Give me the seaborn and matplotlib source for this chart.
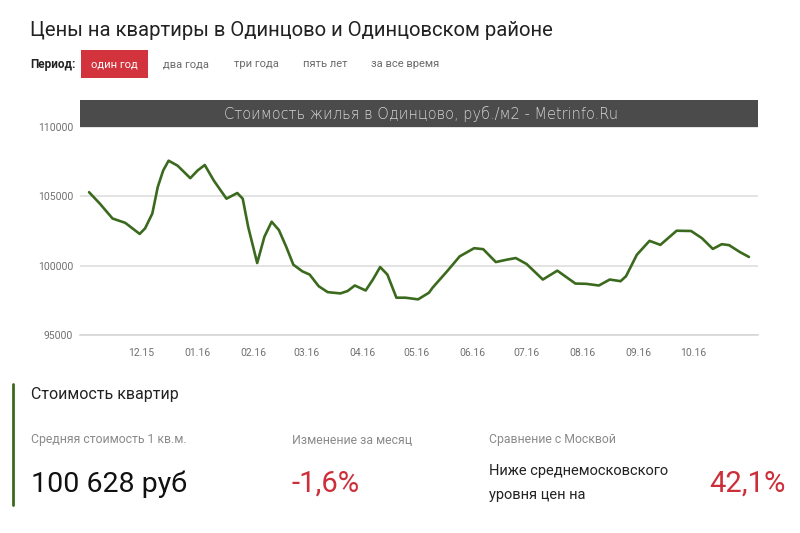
import matplotlib
matplotlib.use("Agg")
import matplotlib.pyplot as plt
import matplotlib.dates as mdates
from matplotlib.patches import Rectangle
import pandas as pd
import seaborn as sns

dates = ["2015-11-02", "2015-11-08", "2015-11-15", "2015-11-22", "2015-11-26", "2015-11-30",
         "2015-12-03", "2015-12-07", "2015-12-10", "2015-12-13", "2015-12-16", "2015-12-21",
         "2015-12-28", "2016-01-01", "2016-01-05", "2016-01-10", "2016-01-17", "2016-01-23",
         "2016-01-26", "2016-01-29", "2016-02-03", "2016-02-07", "2016-02-11", "2016-02-15",
         "2016-02-19", "2016-02-23", "2016-02-28", "2016-03-03", "2016-03-08", "2016-03-13",
         "2016-03-20", "2016-03-24", "2016-03-28", "2016-04-03", "2016-04-07", "2016-04-11",
         "2016-04-15", "2016-04-20", "2016-04-25", "2016-05-02", "2016-05-08", "2016-05-10",
         "2016-05-18", "2016-05-25", "2016-06-02", "2016-06-07", "2016-06-14", "2016-06-20",
         "2016-06-25", "2016-07-01", "2016-07-10", "2016-07-18", "2016-07-28", "2016-08-03",
         "2016-08-10", "2016-08-16", "2016-08-22", "2016-08-25", "2016-08-31", "2016-09-07",
         "2016-09-13", "2016-09-22", "2016-09-30", "2016-10-06", "2016-10-12", "2016-10-17",
         "2016-10-21", "2016-10-27", "2016-11-01"]
prices = [105300, 104470, 103400, 103090, 102690, 102290,
          102690, 103760, 105670, 106860, 107570, 107210,
          106310, 106860, 107260, 106140, 104830, 105240,
          104830, 102810, 100190, 102090, 103170, 102570,
          101380, 100070, 99590, 99360, 98520, 98090,
          98000, 98170, 98570, 98210, 99000, 99900,
          99360, 97690, 97690, 97570, 98050, 98410,
          99590, 100670, 101260, 101190, 100260, 100430,
          100550, 100120, 99000, 99640, 98710, 98690,
          98570, 99000, 98880, 99240, 100790, 101790,
          101500, 102520, 102500, 101980, 101210, 101550,
          101480, 100980, 100628]
y_ticks = [95000, 100000, 105000, 110000]
x_tick_dates = ["2015-12-01", "2016-01-01", "2016-02-01", "2016-03-01", "2016-04-01", "2016-05-01",
                "2016-06-01", "2016-07-01", "2016-08-01", "2016-09-01", "2016-10-01"]

title = "Цены на квартиры в Одинцово и Одинцовском районе"
chart_title = "Стоимость жилья в Одинцово, руб./м2 - Metrinfo.Ru"
period_label = "Период:"
periods = ["один год", "два года", "три года", "пять лет", "за все время"]

df = pd.DataFrame({"date": pd.to_datetime(dates), "price": prices})

sns.set_style("white")
plt.rcParams["font.family"] = ["Roboto", "DejaVu Sans"]

W, H = 800, 533
fig = plt.figure(figsize=(8, 5.33), dpi=100)

def fx(x):
    return x / W

def fy(y):
    return 1 - y / H

ax = fig.add_axes([fx(80), fy(335), fx(758) - fx(80), fy(127) - fy(335)])
sns.lineplot(data=df, x="date", y="price", ax=ax, color="#3b6a1e", linewidth=1.9)

ax.set_ylim(95000, 110000)
ax.set_xlim(pd.Timestamp("2015-10-28"), pd.Timestamp("2016-11-06"))
ax.set_yticks(y_ticks)
ax.set_yticklabels([str(v) for v in y_ticks])
ax.set_xticks(pd.to_datetime(x_tick_dates))
ax.xaxis.set_major_formatter(mdates.DateFormatter("%m.%y"))
ax.grid(axis="y", color="#dedede", linewidth=1.2)
ax.grid(axis="x", visible=False)
for s in ["top", "right", "left"]:
    ax.spines[s].set_visible(False)
ax.spines["bottom"].set_color("#d6d6d6")
ax.spines["bottom"].set_linewidth(1.2)
ax.tick_params(axis="y", length=0, pad=5, labelsize=7.5, labelcolor="#707070")
ax.tick_params(axis="x", length=6, width=1, color="#d6d6d6", pad=3, labelsize=7.5, labelcolor="#707070")
ax.set_xlabel("")
ax.set_ylabel("")

# chart header bar
fig.patches.append(Rectangle((fx(80), fy(127)), fx(758) - fx(80), fy(100) - fy(127),
                             transform=fig.transFigure, facecolor="#4b4b4b", edgecolor="none", zorder=5))
fig.text(fx(421), fy(114), chart_title, color="#d4d4d4", fontsize=10.5, ha="center", va="center",
         zorder=6, family=["DejaVu Sans"], fontweight="light")

# page title
fig.text(fx(30), fy(30), title, fontsize=14.6, color="#222222", ha="left", va="center")

# period selector
fig.text(fx(30), fy(64), period_label, fontsize=8.5, color="#222222", fontweight="bold", ha="left", va="center")
fig.patches.append(Rectangle((fx(81), fy(78)), fx(148) - fx(81), fy(50) - fy(78),
                             transform=fig.transFigure, facecolor="#d2333c", edgecolor="none"))
period_x = [114.5, 186, 256, 325, 405]
for i, (p, px) in enumerate(zip(periods, period_x)):
    fig.text(fx(px), fy(64), p, fontsize=8, color="white" if i == 0 else "#6a6a6a", ha="center", va="center")

# summary block
fig.add_artist(plt.Line2D([fx(12.5), fx(12.5)], [fy(384), fy(505)], transform=fig.transFigure,
                          color="#3b6a1e", linewidth=2))
fig.text(fx(31), fy(395), "Стоимость квартир", fontsize=11.5, color="#222222", ha="left", va="center")
fig.text(fx(31), fy(440), "Средняя стоимость 1 кв.м.", fontsize=8.8, color="#8a8a8a", ha="left", va="center")
fig.text(fx(292), fy(440), "Изменение за месяц", fontsize=8.8, color="#8a8a8a", ha="left", va="center")
fig.text(fx(489), fy(440), "Сравнение с Москвой", fontsize=8.8, color="#8a8a8a", ha="left", va="center")
fig.text(fx(31), fy(484), "100 628 руб", fontsize=20.5, color="#111111", ha="left", va="center")
fig.text(fx(292), fy(484), "-1,6%", fontsize=21, color="#cc2f3a", ha="left", va="center")
fig.text(fx(489), fy(471), "Ниже среднемосковского", fontsize=10.5, color="#222222", ha="left", va="center")
fig.text(fx(489), fy(495), "уровня цен на", fontsize=10.5, color="#222222", ha="left", va="center")
fig.text(fx(786), fy(484), "42,1%", fontsize=21, color="#cc2f3a", ha="right", va="center")

fig.savefig("out.png", dpi=100, facecolor="white")
